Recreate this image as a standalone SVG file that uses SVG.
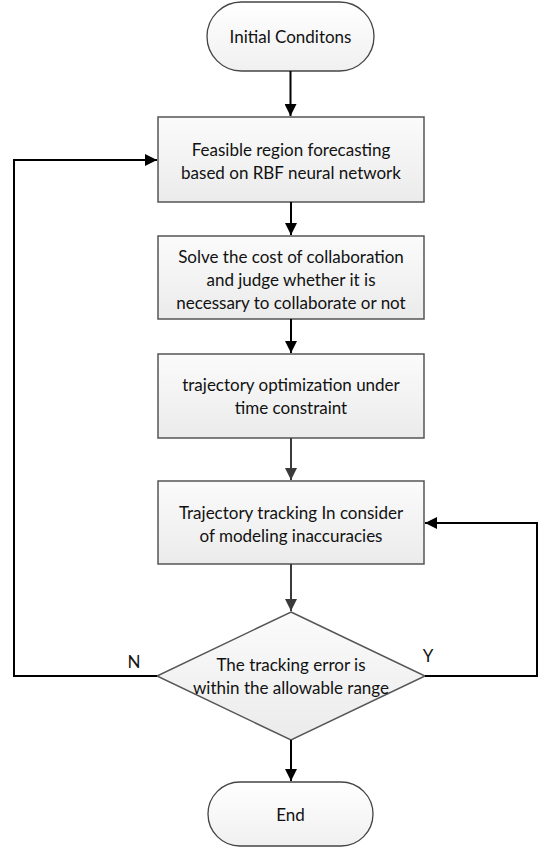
<svg xmlns="http://www.w3.org/2000/svg" width="538" height="848" viewBox="0 0 538 848">
<defs>
<linearGradient id="gBox" x1="0" y1="0" x2="0" y2="1">
<stop offset="0" stop-color="#fbfbfb"/><stop offset="1" stop-color="#ebebeb"/>
</linearGradient>
<linearGradient id="gTerm" x1="0" y1="0" x2="0" y2="1">
<stop offset="0" stop-color="#ffffff"/><stop offset="1" stop-color="#f0f0f0"/>
</linearGradient>
<marker id="ah" viewBox="0 0 10 10" refX="10" refY="5" markerWidth="6" markerHeight="6" orient="auto" markerUnits="strokeWidth">
<path d="M0,0 L10,5 L0,10 z" fill="#000"/>
</marker>
<marker id="ahg" viewBox="0 0 10 10" refX="10" refY="5" markerWidth="6" markerHeight="6" orient="auto" markerUnits="strokeWidth">
<path d="M0,0 L10,5 L0,10 z" fill="#3a3a3a"/>
</marker>
</defs>
<style>
.box{fill:url(#gBox);stroke:#555;stroke-width:1.5}
.term{fill:url(#gTerm);stroke:#444;stroke-width:1.3}
.t{font-family:Lato,"Noto Sans",sans-serif;font-size:17px;fill:#111;text-anchor:middle}
.e{fill:none;stroke:#000;stroke-width:2}
.eg{fill:none;stroke:#3a3a3a;stroke-width:2}
</style>
<g id="start">
<rect class="term" x="207" y="2" width="167" height="69" rx="34.5"/>
<text class="t" x="290.5" y="43">Initial Conditons</text>
</g>
<g id="box1">
<rect class="box" x="158" y="117" width="266" height="85"/>
<text class="t" x="291" y="156">Feasible region forecasting</text>
<text class="t" x="291" y="179">based on RBF neural network</text>
</g>
<g id="box2">
<rect class="box" x="158" y="236" width="266" height="83"/>
<text class="t" x="291" y="263">Solve the cost of collaboration</text>
<text class="t" x="291" y="286">and judge whether it is</text>
<text class="t" x="291" y="309">necessary to collaborate  or not</text>
</g>
<g id="box3">
<rect class="box" x="158" y="354" width="266" height="84"/>
<text class="t" x="291" y="391">trajectory optimization under</text>
<text class="t" x="291" y="414">time constraint</text>
</g>
<g id="box4">
<rect class="box" x="158" y="481" width="266" height="83"/>
<text class="t" x="291" y="519">Trajectory tracking In consider</text>
<text class="t" x="291" y="542">of modeling inaccuracies</text>
</g>
<g id="decision">
<polygon class="box" points="291,612 425,676 291,740 157,676"/>
<text class="t" x="291" y="671">The tracking error is</text>
<text class="t" x="291" y="694">within the allowable range</text>
</g>
<g id="end">
<rect class="term" x="208" y="782" width="165" height="64" rx="32"/>
<text class="t" x="290.5" y="821">End</text>
</g>
<g id="connectors">
<line class="e" x1="290.5" y1="71" x2="290.5" y2="116" marker-end="url(#ah)"/>
<line class="e" x1="291" y1="202" x2="291" y2="235" marker-end="url(#ah)"/>
<line class="e" x1="291" y1="319" x2="291" y2="353" marker-end="url(#ah)"/>
<line class="eg" x1="291" y1="438" x2="291" y2="480" marker-end="url(#ahg)"/>
<line class="eg" x1="291" y1="564" x2="291" y2="611" marker-end="url(#ahg)"/>
<line class="e" x1="291" y1="740" x2="291" y2="781" marker-end="url(#ah)"/>
<polyline class="e" points="157,676 14,676 14,160 157,160" marker-end="url(#ah)"/>
<polyline class="e" points="425,676 537,676 537,523 425,523" marker-end="url(#ah)"/>
<text class="t" x="134" y="668">N</text>
<text class="t" x="428" y="662">Y</text>
</g>
</svg>
